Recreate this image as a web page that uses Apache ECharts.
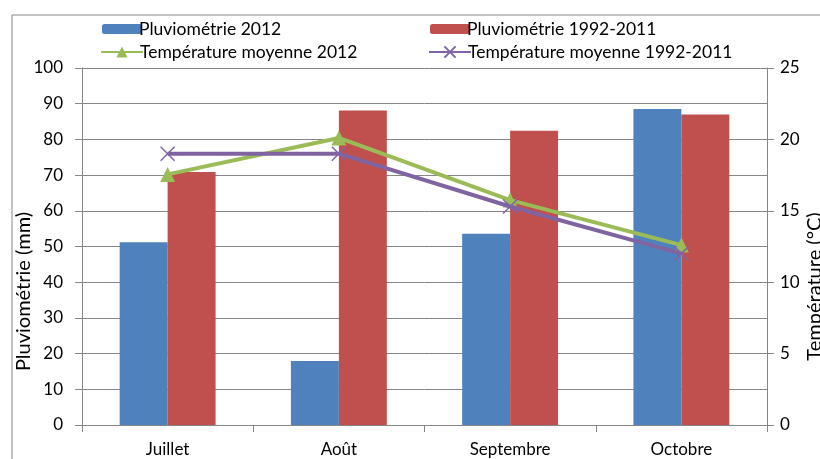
<!DOCTYPE html>
<html><head><meta charset="utf-8">
<script src="https://cdn.jsdelivr.net/npm/echarts@6/dist/echarts.min.js"></script>
<style>html,body{margin:0;padding:0;background:#fff}#c{width:820px;height:459px}</style>
</head><body><div id="c"></div>
<script>
const categories = ['Juillet', 'Août', 'Septembre', 'Octobre'];
const pluvio2012 = [51.2, 17.9, 53.6, 88.5];
const pluvioRef = [70.9, 88.1, 82.4, 87.0];
const temp2012 = [17.55, 20.1, 15.75, 12.6];
const tempRef = [19.0, 19.0, 15.3, 12.0];
const leftTicks = {min: 0, max: 100, interval: 10};
const rightTicks = {min: 0, max: 25, interval: 5};

const FONT = 'Lato';
const GRAY = '#868686';
const chart = echarts.init(document.getElementById('c'), null, {renderer: 'canvas'});
const lbl = {fontFamily: FONT, fontSize: 17, color: '#000'};
const crossPath = 'path://M0,0L10,10M10,0L0,10';
function legend(name, left, top, isLine) {
  return {
    data: [name], left: left, top: top, itemGap: 0,
    itemWidth: isLine ? 42 : 40, itemHeight: isLine ? 14 : 10,
    textStyle: {fontFamily: FONT, fontSize: 17.5, color: '#000', padding: [0, 0, 0, -8]},
    selectedMode: false
  };
}
chart.setOption({
  animation: false,
  textStyle: {fontFamily: FONT},
  graphic: [{type: 'polyline', shape: {points: [[12, 459], [12, 15], [820, 15]]}, style: {stroke: GRAY, lineWidth: 1, fill: null}}],
  legend: [
    legend('Pluviométrie 2012', 97, 15, false),
    legend('Pluviométrie 1992-2011', 425, 15, false),
    legend('Température moyenne 2012', 95, 38, true),
    legend('Température moyenne 1992-2011', 423, 38, true)
  ],
  grid: {left: 82, right: 53, top: 68, bottom: 34, containLabel: false, outerBoundsMode: 'none'},
  xAxis: {
    type: 'category', data: categories,
    axisLine: {lineStyle: {color: GRAY}},
    axisTick: {show: true, length: 7, lineStyle: {color: GRAY}},
    axisLabel: Object.assign({margin: 16}, lbl)
  },
  yAxis: [{
    type: 'value', min: leftTicks.min, max: leftTicks.max, interval: leftTicks.interval,
    name: 'Pluviométrie (mm)', nameLocation: 'middle', nameGap: 48, nameRotate: 90, nameMoveOverlap: false,
    nameTextStyle: {fontFamily: FONT, fontSize: 20, color: '#000', padding: [0, 90, 0, 0]},
    axisLine: {show: true, lineStyle: {color: GRAY}},
    axisTick: {show: true, length: 7, lineStyle: {color: GRAY}},
    axisLabel: Object.assign({margin: 19}, lbl),
    splitLine: {lineStyle: {color: GRAY, width: 1}}
  }, {
    type: 'value', min: rightTicks.min, max: rightTicks.max, interval: rightTicks.interval,
    name: 'Température (°C)', nameLocation: 'middle', nameGap: 38, nameRotate: 90, nameMoveOverlap: false,
    nameTextStyle: {fontFamily: FONT, fontSize: 20, color: '#000', padding: [0, 80, 0, 0]},
    axisLine: {show: true, lineStyle: {color: GRAY}},
    axisTick: {show: true, length: 7, lineStyle: {color: GRAY}},
    axisLabel: Object.assign({margin: 13}, lbl),
    splitLine: {show: false}
  }],
  series: [
    {name: 'Pluviométrie 2012', type: 'bar', data: pluvio2012, barGap: '0%', barCategoryGap: '44%',
     itemStyle: {color: '#4F81BD'}},
    {name: 'Pluviométrie 1992-2011', type: 'bar', data: pluvioRef, barGap: '0%', barCategoryGap: '44%',
     itemStyle: {color: '#C0504D'}},
    {name: 'Température moyenne 2012', type: 'line', yAxisIndex: 1, data: temp2012,
     symbol: 'triangle', symbolSize: 15, lineStyle: {color: '#9BBB59', width: 4},
     itemStyle: {color: '#9BBB59'}, z: 3},
    {name: 'Température moyenne 1992-2011', type: 'line', yAxisIndex: 1, data: tempRef,
     symbol: crossPath, symbolSize: 14, lineStyle: {color: '#8064A2', width: 4},
     itemStyle: {color: '#8064A2', borderColor: '#8064A2', borderWidth: 1.5}, z: 4}
  ]
});
</script></body></html>
